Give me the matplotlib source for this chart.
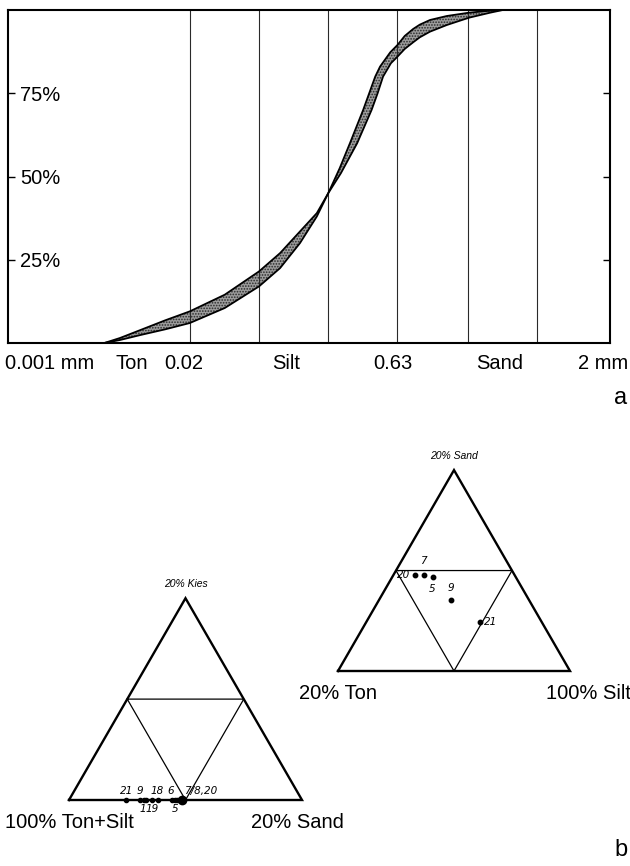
import numpy as np
import matplotlib
matplotlib.use("Agg")
import matplotlib.pyplot as plt

plt.rcParams['font.family'] = ['Liberation Sans', 'DejaVu Sans']
plt.rcParams['hatch.linewidth'] = 0.8

# ---------------- data: grain size curve (panel a) ----------------
# x in schematic axis units (0 = 0.001 mm, 100 = 2 mm), y in percent
grid_x = [30.2, 41.7, 53.2, 64.7, 76.4, 87.9]
x_label_pos = [6.9, 20.6, 29.2, 46.2, 64.0, 81.6, 98.8]
x_labels = ['0.001 mm', 'Ton', '0.02', 'Silt', '0.63', 'Sand', '2 mm']
y_ticks = [25, 50, 75]
y_tick_labels = ['25%', '50%', '75%']

upper_x = [16.0, 18.6, 22.0, 26.1, 30.2, 36.0, 41.7, 45.2, 48.5, 51.3, 53.2,
           55.1, 56.8, 59.0, 60.0, 61.0, 61.8, 63.5, 64.7, 65.9, 67.3, 68.4,
           70.1, 72.9, 76.6, 80.1, 82.2]
upper_y = [0, 1.5, 3.9, 6.8, 9.5, 14.5, 21.5, 27, 33.5, 39, 45,
           52.5, 60, 70, 75, 80, 83, 87.3, 89.5, 92.2, 94.3, 95.6,
           97, 98.2, 99.2, 99.8, 100]
lower_x = [16.0, 18.6, 22.0, 26.1, 30.2, 36.0, 41.7, 45.2, 48.5, 51.3, 53.2,
           55.3, 58.0, 60.4, 61.4, 62.3, 63.6, 64.7, 65.9, 67.3, 68.4,
           70.1, 72.9, 76.6, 80.1, 82.2]
lower_y = [0, 0.9, 2.4, 4.1, 6, 10.5, 17, 22.5, 30, 38, 45,
           51, 60, 70, 75, 80, 84, 86, 88.3, 90.3, 91.8,
           93.5, 95.5, 97.7, 99.2, 100]

# ---------------- data: ternary diagrams (panel b) ----------------
# right triangle: apex 20% Sand, left 20% Ton, right 100% Silt
r_names = ['20', '7', '5', '9', '21']
r_sand = [9.6, 9.6, 9.4, 7.1, 4.9]
r_ton = [8.6, 7.8, 7.1, 6.7, 5.3]

# left triangle: apex 20% Kies, left 100% Ton+Silt, right 20% Sand
l_sand = [4.9, 6.1, 6.4, 6.65, 7.1, 7.6, 8.85, 9.1, 9.3]
l_kies = [0, 0, 0, 0, 0, 0, 0, 0, 0]
l_big_sand = [9.7]
l_big_kies = [0]
l_label_names = ['21', '9', '18', '6', '7/8,20', '1', '19', '5']
l_label_sand = [4.9, 6.1, 7.6, 8.7, 9.85, 6.3, 7.1, 9.1]
l_label_side = ['above', 'above', 'above', 'above', 'above_right', 'below', 'below', 'below']

# ---------------- figure ----------------
W, H = 630, 866
fig = plt.figure(figsize=(W / 100, H / 100), dpi=100)


def fx(px):
    return px / W


def fy(py):
    return 1 - py / H


ax = fig.add_axes([fx(8), fy(343), 602 / W, 333 / H])
ax.set_xlim(0, 100)
ax.set_ylim(0, 100)
for x in grid_x:
    ax.axvline(x, color='#2a2a2a', lw=0.8)

poly_x = np.concatenate([upper_x, lower_x[::-1]])
poly_y = np.concatenate([upper_y, lower_y[::-1]])
ax.fill(poly_x, poly_y, facecolor='#9c9c9c', edgecolor='#2a2a2a', hatch='......', lw=0)
ax.plot(upper_x, upper_y, color='black', lw=1.3, solid_joinstyle='round')
ax.plot(lower_x, lower_y, color='black', lw=1.3, solid_joinstyle='round')

for sp in ax.spines.values():
    sp.set_linewidth(1.5)
ax.set_yticks(y_ticks)
ax.set_yticklabels(y_tick_labels)
ax.tick_params(axis='y', direction='in', length=5, width=1, labelsize=14.5,
               pad=-8.5, right=True)
for lab in ax.get_yticklabels():
    lab.set_horizontalalignment('left')
ax.set_xticks(x_label_pos)
ax.set_xticklabels(x_labels)
ax.tick_params(axis='x', length=0, labelsize=14.5, pad=8)

fig.text(fx(621), fy(398), 'a', fontsize=17, ha='center', va='center')
fig.text(fx(621), fy(850), 'b', fontsize=17, ha='center', va='center')

S = np.sqrt(3) / 2


def tri_axes(left_px, base_px, width_px):
    h = width_px * S
    a = fig.add_axes([fx(left_px), fy(base_px), width_px / W, h / H])
    a.set_xlim(0, 1)
    a.set_ylim(0, S)
    a.axis('off')
    a.plot([0, 1, 0.5, 0], [0, 0, S, 0], color='black', lw=1.7, clip_on=False,
           solid_joinstyle='miter')
    a.plot([0.25, 0.75, 0.5, 0.25], [S / 2, S / 2, 0, S / 2], color='black',
           lw=0.9, clip_on=False)
    return a


def tern(top, left):
    top = np.asarray(top, float)
    left = np.asarray(left, float)
    right = 1 - top - left
    return right + 0.5 * top, top * S


small = dict(fontsize=7.5, style='italic', family=['DejaVu Sans'])

# right triangle
ar = tri_axes(338, 671, 232)
xr, yr = tern(np.array(r_sand) / 20, np.array(r_ton) / 20)
ar.plot(xr, yr, 'o', color='black', ms=3.2, clip_on=False)
r_off = {'20': (-3, 0, 'right', 'center'), '7': (0, 6, 'center', 'bottom'),
         '5': (-1, -5, 'center', 'top'), '9': (0, 5, 'center', 'bottom'),
         '21': (3, 0, 'left', 'center')}
for n, x, y in zip(r_names, xr, yr):
    dx, dy, ha, va = r_off[n]
    ar.annotate(n, (x, y), xytext=(dx, dy), textcoords='offset points',
                ha=ha, va=va, **small)
ar.text(0.5, S + 0.04, '20% Sand', ha='center', va='bottom', fontsize=7.5,
        style='italic')
ar.text(0, -0.055, '20% Ton', ha='center', va='top', fontsize=14.5)
ar.text(0.895, -0.055, '100% Silt', ha='left', va='top', fontsize=14.5, clip_on=False)

# left triangle
al = tri_axes(69, 800, 233)
xl, yl = tern(np.array(l_kies) / 20, 1 - np.array(l_kies) / 20 - np.array(l_sand) / 20)
al.plot(xl, yl, 'o', color='black', ms=3.0, clip_on=False)
xb, yb = tern(np.array(l_big_kies) / 20, 1 - np.array(l_big_kies) / 20 - np.array(l_big_sand) / 20)
al.plot(xb, yb, 'o', color='black', ms=6, clip_on=False)
for n, sd, side in zip(l_label_names, l_label_sand, l_label_side):
    x, y = tern(0.0, 1 - sd / 20)
    if side == 'above':
        al.annotate(n, (x, y), xytext=(0, 3), textcoords='offset points',
                    ha='center', va='bottom', **small)
    elif side == 'above_right':
        al.annotate(n, (x, y), xytext=(0, 3), textcoords='offset points',
                    ha='left', va='bottom', **small)
    else:
        al.annotate(n, (x, y), xytext=(0, -3), textcoords='offset points',
                    ha='center', va='top', **small)
al.text(0.5, S + 0.04, '20% Kies', ha='center', va='bottom', fontsize=7.5, style='italic')
al.text(0.0, -0.055, '100% Ton+Silt', ha='center', va='top', fontsize=14.5)
al.text(0.98, -0.055, '20% Sand', ha='center', va='top', fontsize=14.5)

fig.savefig('out.png', dpi=100)
